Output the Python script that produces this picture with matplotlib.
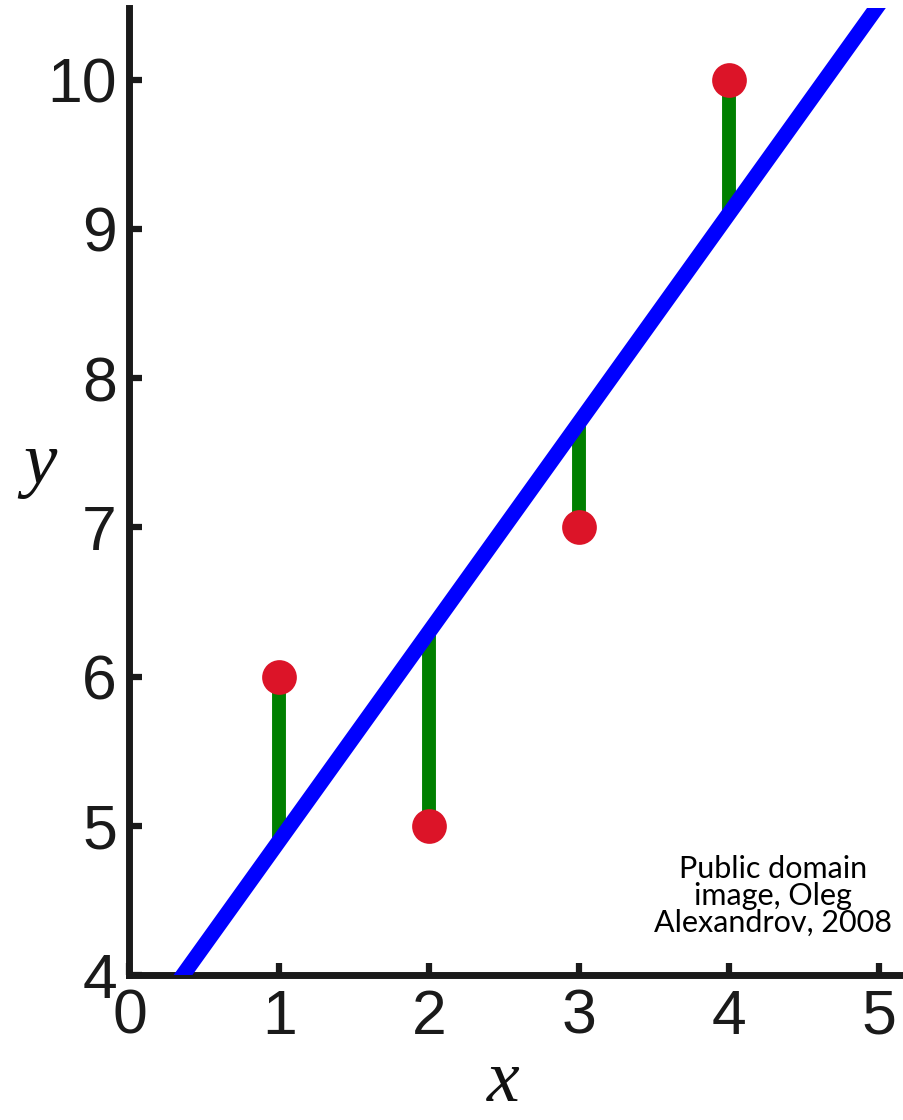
import numpy as np
import matplotlib
matplotlib.use("Agg")
import matplotlib.pyplot as plt

# data points and ticks
x_pts = [1, 2, 3, 4]
y_pts = [6, 5, 7, 10]
x_ticks = [0, 1, 2, 3, 4, 5]
y_ticks = [4, 5, 6, 7, 8, 9, 10]
note = "Public domain\nimage, Oleg\nAlexandrov, 2008"

# least squares fit
slope, intercept = np.polyfit(x_pts, y_pts, 1)
fit_y = [slope * xi + intercept for xi in x_pts]

fig = plt.figure(figsize=(9.04, 11.2), dpi=100)
ax = fig.add_axes([129.5 / 904, 145 / 1120, 774.5 / 904, 967 / 1120])

# residuals (green), under the fit line
for xi, yi, fi in zip(x_pts, y_pts, fit_y):
    ax.plot([xi, xi], [yi, fi], color="#008000", lw=10, solid_capstyle="butt", zorder=2)

# fit line
xx = np.array([0, 5.5])
ax.plot(xx, slope * xx + intercept, color="#0000ff", lw=11, solid_capstyle="butt", zorder=3)

# data points
ax.plot(x_pts, y_pts, "o", color="#dc1428", ms=25, mew=0, zorder=4)

ax.set_xlim(0, 5.17)
ax.set_ylim(4, 10.48)
ax.set_xticks(x_ticks)
ax.set_yticks(y_ticks)

for side in ["top", "right"]:
    ax.spines[side].set_visible(False)
for side in ["left", "bottom"]:
    ax.spines[side].set_linewidth(5)
    ax.spines[side].set_color("#1a1a1a")
    ax.spines[side].set_capstyle("projecting")

ax.tick_params(direction="in", length=9, width=4.5, color="#1a1a1a",
               labelsize=45, labelcolor="#1a1a1a")
ax.tick_params(axis="x", pad=9)
ax.tick_params(axis="y", pad=9)
for lab in ax.get_xticklabels() + ax.get_yticklabels():
    lab.set_fontfamily("Liberation Sans")

# axis labels placed by figure pixels
fig.text(503 / 904, 1 - 1101 / 1120, "x", ha="center", va="baseline",
         fontsize=53, family="Liberation Serif", style="italic", color="#111111")
fig.text(40 / 904, 1 - 465 / 1120, "y", ha="center", va="center",
         fontsize=54, family="Liberation Serif", style="italic", color="#111111")

fig.text(773 / 904, 1 - 896 / 1120, note, ha="center", va="center",
         fontsize=22, family="Lato", linespacing=0.95, color="black")

fig.savefig("out.png", dpi=100)
